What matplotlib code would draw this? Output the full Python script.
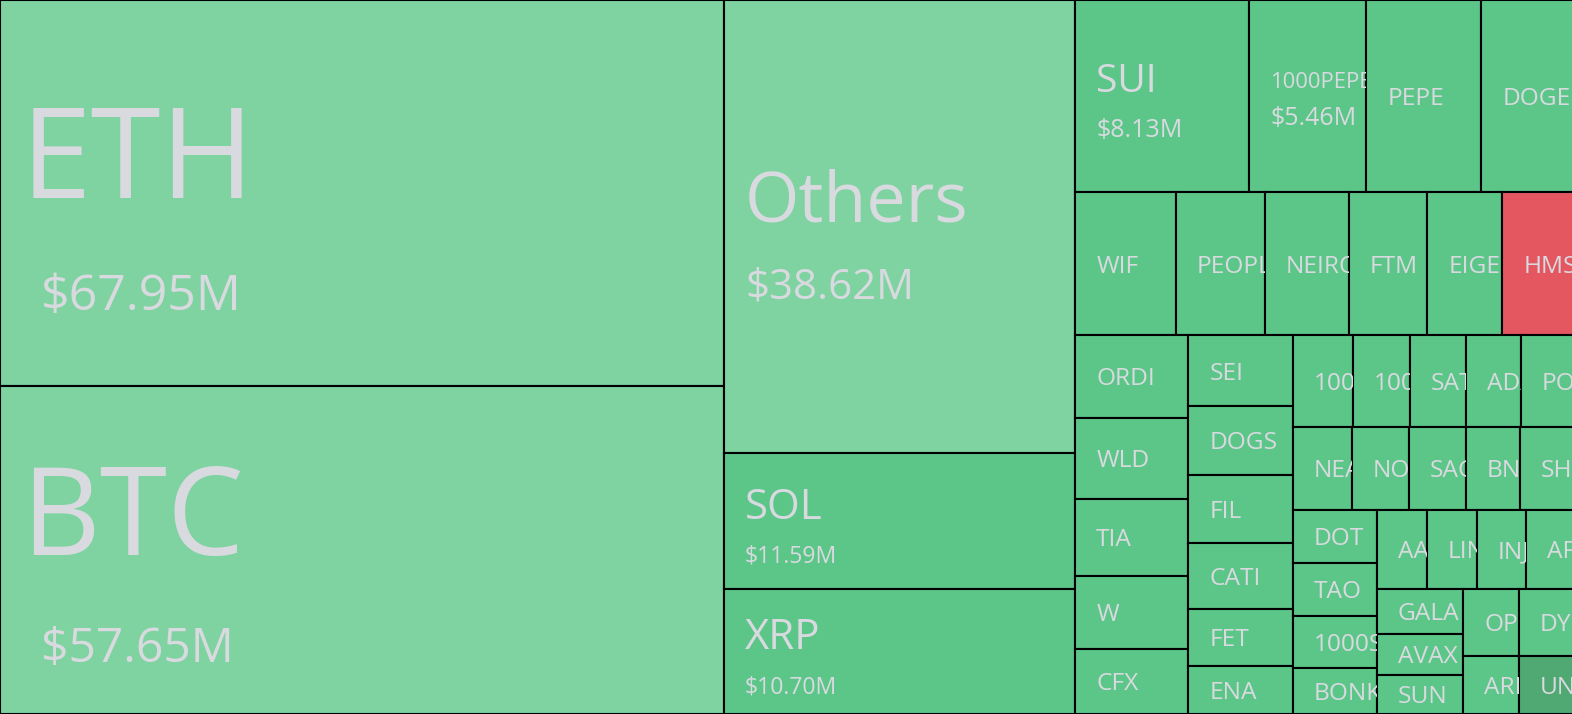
import matplotlib.pyplot as plt
from matplotlib.patches import Rectangle

# liquidations by coin ($M), in squarified order
coins = ["ETH", "BTC",
         "Others", "SOL", "XRP",
         "SUI", "1000PEPE", "PEPE", "DOGE",
         "WIF", "PEOPLE", "NEIRO", "FTM", "EIGEN", "HMSTR",
         "ORDI", "WLD", "TIA", "W", "CFX",
         "SEI", "DOGS", "FIL", "CATI", "FET", "ENA",
         "1000FLOKI", "1000RATS", "SATS", "ADA", "POPCAT",
         "NEAR", "NOT", "SAGA", "BNB", "SHIB",
         "DOT", "TAO", "1000SHIB", "BONK",
         "AAVE", "LINK", "INJ", "APT",
         "GALA", "AVAX", "SUN",
         "OP", "DYDX",
         "ARB",
         "UNI"]
liq = [67.95, 57.65,
       38.62, 11.59, 10.70,
       8.13, 5.46, 5.36, 4.40,
       3.51, 3.09, 2.92, 2.74, 2.61, 2.55,
       2.26, 2.24, 2.11, 2.01, 1.80,
       1.79, 1.74, 1.72, 1.67, 1.44, 1.21,
       1.34, 1.27, 1.27, 1.21, 1.22,
       1.19, 1.15, 1.15, 1.09, 1.12,
       1.08, 1.08, 1.06, 0.94,
       0.96, 0.96, 0.94, 0.95,
       0.95, 0.87, 0.82,
       0.90, 0.92,
       0.78,
       0.80]
# how many coins go into each strip of the squarified layout
strip_sizes = [2, 3, 4, 6, 5, 6, 5, 5, 4, 4, 3, 2, 1, 1]
light_coins = {"ETH", "BTC", "Others"}
red_coins = {"HMSTR"}
dark_coins = {"UNI"}

FIG_W, FIG_H = 1572, 714
PX2_PER_M = 4116.0          # pixel area per $1M
LIGHT = "#7ED3A0"
MID = "#5CC689"
RED = "#E55760"
DARK = "#50A873"
TXT = "#D9DAE0"
# (name px, value px, value indent) for labels that show the amount
label_style = {
    "ETH": (127, 50, 20), "BTC": (122, 48, 20), "Others": (70, 42, 0),
    "SOL": (42, 23, 0), "XRP": (42, 23, 0), "SUI": (39, 25, 0),
    "1000PEPE": (22, 25, 0),
}
SMALL_PX = 24.5
PAD = 21

plt.rcParams['font.family'] = ['Open Sans', 'DejaVu Sans']


def layout(vals, sizes, x, y, w, h):
    rects = []
    i = 0
    for n in sizes:
        group = vals[i:i + n]
        s = sum(group) * PX2_PER_M
        if w >= h:
            cw = s / h
            yy = y
            for v in group:
                ch = v * PX2_PER_M / cw
                rects.append((x, yy, cw, ch))
                yy += ch
            x += cw
            w -= cw
        else:
            rh = s / w
            xx = x
            for v in group:
                cw = v * PX2_PER_M / rh
                rects.append((xx, y, cw, rh))
                xx += cw
            y += rh
            h -= rh
        i += n
    return rects


total_w = sum(liq) * PX2_PER_M / FIG_H
rects = layout(liq, strip_sizes, 0, 0, total_w, FIG_H)

fig = plt.figure(figsize=(FIG_W / 100, FIG_H / 100), dpi=100)
ax = fig.add_axes([0, 0, 1, 1])
ax.set_xlim(0, FIG_W)
ax.set_ylim(FIG_H, 0)
ax.axis('off')

pt = 72 / 100  # px -> pt
for name, v, (x, y, w, h) in zip(coins, liq, rects):
    if name in light_coins:
        fc = LIGHT
    elif name in red_coins:
        fc = RED
    elif name in dark_coins:
        fc = DARK
    else:
        fc = MID
    r = Rectangle((x, y), w, h, facecolor=fc, edgecolor="black", linewidth=1.5)
    ax.add_patch(r)
    cy = y + h / 2
    texts = []
    if name in label_style:
        n_px, v_px, ind = label_style[name]
        d = 0.445 * n_px + 1.1 * v_px
        yb = cy - d / 2 + 0.48 * n_px
        texts.append(ax.text(x + PAD, yb, name, fontsize=n_px * pt, color=TXT,
                             va="baseline", ha="left"))
        texts.append(ax.text(x + PAD + ind, yb + d, f"${v:.2f}M", fontsize=v_px * pt,
                             color=TXT, va="baseline", ha="left"))
    else:
        texts.append(ax.text(x + PAD, cy + 0.357 * SMALL_PX, name, fontsize=SMALL_PX * pt,
                             color=TXT, va="baseline", ha="left"))
    for t in texts:
        t.set_clip_path(r)
        t.set_clip_on(True)

fig.savefig("out.png", dpi=100)
